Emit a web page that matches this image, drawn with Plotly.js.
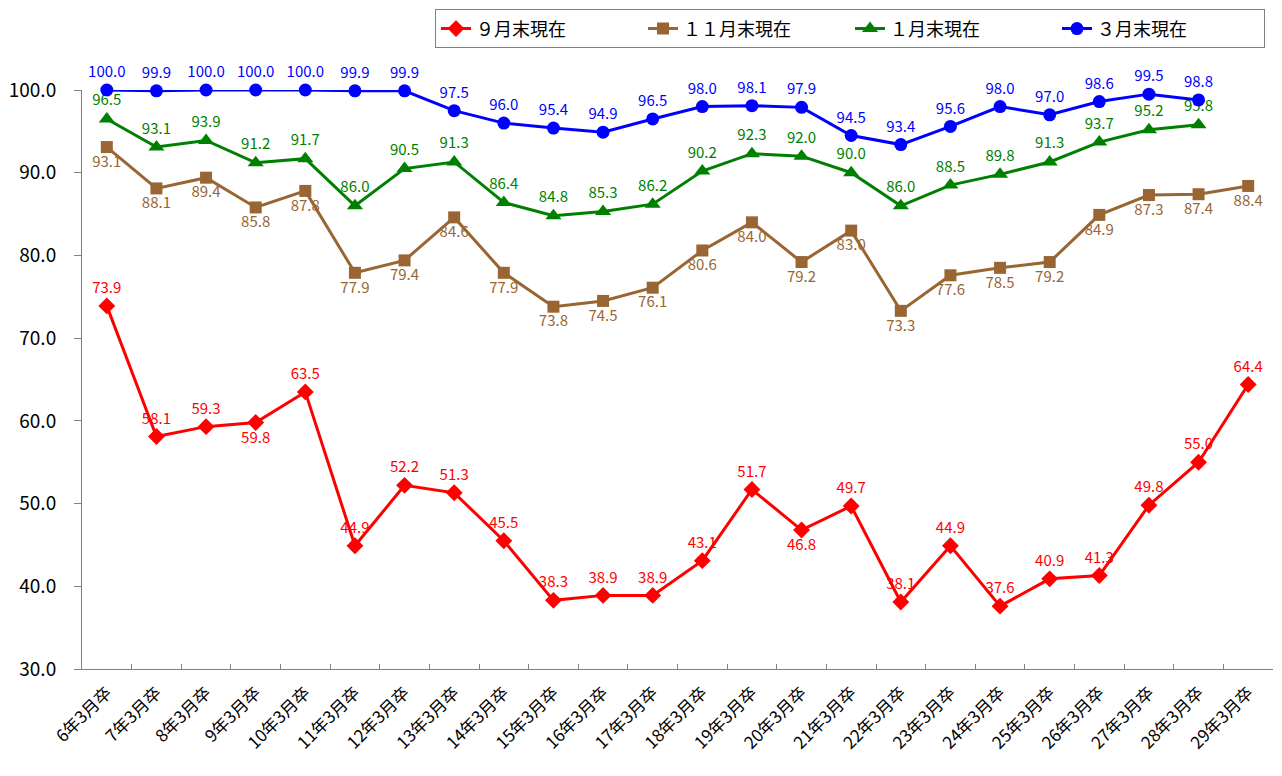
<!DOCTYPE html>
<html>
<head>
<meta charset="utf-8">
<script src="https://cdn.plot.ly/plotly-3.0.1.min.js"></script>
<style>html,body{margin:0;padding:0;background:#fff;}#chart{width:1282px;height:776px;}</style>
</head>
<body>
<div id="chart"></div>
<script>
const categories = ["6年3月卒","7年3月卒","8年3月卒","9年3月卒","10年3月卒","11年3月卒","12年3月卒","13年3月卒","14年3月卒","15年3月卒","16年3月卒","17年3月卒","18年3月卒","19年3月卒","20年3月卒","21年3月卒","22年3月卒","23年3月卒","24年3月卒","25年3月卒","26年3月卒","27年3月卒","28年3月卒","29年3月卒"];
const sep = [73.9,58.1,59.3,59.8,63.5,44.9,52.2,51.3,45.5,38.3,38.9,38.9,43.1,51.7,46.8,49.7,38.1,44.9,37.6,40.9,41.3,49.8,55.0,64.4];
const nov = [93.1,88.1,89.4,85.8,87.8,77.9,79.4,84.6,77.9,73.8,74.5,76.1,80.6,84.0,79.2,83.0,73.3,77.6,78.5,79.2,84.9,87.3,87.4,88.4];
const jan = [96.5,93.1,93.9,91.2,91.7,86.0,90.5,91.3,86.4,84.8,85.3,86.2,90.2,92.3,92.0,90.0,86.0,88.5,89.8,91.3,93.7,95.2,95.8];
const mar = [100.0,99.9,100.0,100.0,100.0,99.9,99.9,97.5,96.0,95.4,94.9,96.5,98.0,98.1,97.9,94.5,93.4,95.6,98.0,97.0,98.6,99.5,98.8];
const seriesNames = ["９月末現在","１１月末現在","１月末現在","３月末現在"];

const font = "'Noto Sans CJK JP', 'Noto Sans', sans-serif";
const fmt = a => a.map(v => v.toFixed(1));
const sepPos = sep.map((v,i) => (i===3 || i===14) ? "bottom center" : "top center");

function tr(name, y, color, symbol, size, pos) {
  return {
    type: "scatter", mode: "lines+markers+text", name: name,
    x: categories.slice(0, y.length), y: y,
    text: fmt(y), textposition: pos,
    textfont: {family: font, size: 15, color: color},
    line: {color: color, width: 3},
    marker: {color: color, symbol: symbol, size: size},
    cliponaxis: false
  };
}

const data = [
  tr(seriesNames[0], sep, "#FF0000", "diamond", 13, sepPos),
  tr(seriesNames[1], nov, "#996633", "square", 12, "bottom center"),
  tr(seriesNames[2], jan, "#008000", "triangle-up", 14, "top center"),
  tr(seriesNames[3], mar, "#0000FF", "circle", 13, "top center")
];

const layout = {
  width: 1282, height: 776,
  margin: {l: 82, r: 9, t: 87, b: 107},
  paper_bgcolor: "#fff", plot_bgcolor: "#fff",
  font: {family: font, color: "#000"},
  showlegend: true,
  legend: {
    orientation: "h", x: (1265-82)/1191, xanchor: "right", y: 1 + (87-6)/582, yanchor: "top",
    bordercolor: "#808080", borderwidth: 1, bgcolor: "#fff",
    font: {family: font, size: 18, color: "#000"},
    entrywidth: 162, entrywidthmode: "pixels"
  },
  xaxis: {
    type: "category", range: [-0.5, 23.5], automargin: false,
    showline: true, linecolor: "#808080", linewidth: 1,
    ticks: "inside", ticklen: 5, tickcolor: "#808080", tickson: "boundaries",
    tickangle: -45, tickfont: {family: font, size: 17, color: "#000"},
    ticklabelstandoff: 6,
    showgrid: false, zeroline: false, fixedrange: true
  },
  yaxis: {
    range: [30, 100], dtick: 10, tickformat: ".1f", automargin: false,
    showline: true, linecolor: "#808080", linewidth: 1,
    ticks: "outside", ticklen: 7, tickcolor: "#808080",
    tickfont: {family: font, size: 19, color: "#000"},
    ticklabelstandoff: 14,
    showgrid: false, zeroline: false, fixedrange: true
  }
};

Plotly.newPlot("chart", data, layout, {displayModeBar: false, staticPlot: true});
</script>
</body>
</html>
